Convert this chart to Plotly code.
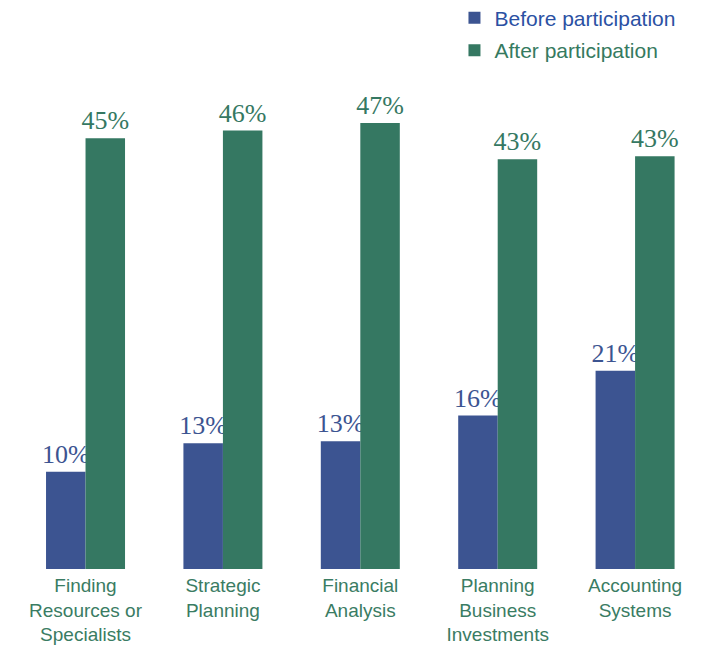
import plotly.graph_objects as go

categories = [
    "Finding<br>Resources or<br>Specialists",
    "Strategic<br>Planning",
    "Financial<br>Analysis",
    "Planning<br>Business<br>Investments",
    "Accounting<br>Systems",
]
before_values = [10.2, 13.2, 13.4, 16.1, 20.8]
after_values = [45.2, 46.0, 46.8, 43.0, 43.3]

series_names = ["Before participation", "After participation"]
bar_colors = ["#3c5491", "#357862"]
legend_text_colors = ["#2b51a3", "#357a60"]

x_idx = list(range(len(categories)))

fig = go.Figure()
for name, vals, col, tcol in zip(series_names, [before_values, after_values], bar_colors, legend_text_colors):
    fig.add_trace(go.Bar(
        x=x_idx,
        y=vals,
        name=f"<span style='color:{tcol}'>{name}</span>",
        legendgroup=name,
        marker=dict(color=col, line=dict(width=0)),
        texttemplate="%{y:.0f}%",
        textposition="outside",
        textfont=dict(family="Liberation Serif, Times New Roman, serif", size=26, color=col),
        constraintext="none",
        cliponaxis=False,
        hoverinfo="skip",
    ))

fig.update_layout(
    width=701,
    height=645,
    margin=dict(l=20, r=10, t=0, b=76, autoexpand=False),
    paper_bgcolor="white",
    plot_bgcolor="white",
    barmode="group",
    bargap=0.425,
    bargroupgap=0,
    font=dict(family="Liberation Sans, Arial, sans-serif"),
    showlegend=True,
    legend=dict(
        x=0.6475, y=1.004, xanchor="left", yanchor="top",
        font=dict(size=21, family="Liberation Sans, Arial, sans-serif"),
        traceorder="grouped",
        tracegroupgap=2,
        bgcolor="rgba(0,0,0,0)",
    ),
    xaxis=dict(
        tickmode="array",
        tickvals=x_idx,
        ticktext=categories,
        range=[-0.477, 4.407],
        tickangle=0,
        automargin=False,
        ticklabelstandoff=3,
        showgrid=False,
        zeroline=False,
        showline=False,
        ticks="",
        tickfont=dict(size=19, color="#3a7c63", family="Liberation Sans, Arial, sans-serif"),
    ),
    yaxis=dict(
        range=[0, 59.7],
        visible=False,
        showgrid=False,
        zeroline=False,
    ),
)

fig.write_html("out.html")
